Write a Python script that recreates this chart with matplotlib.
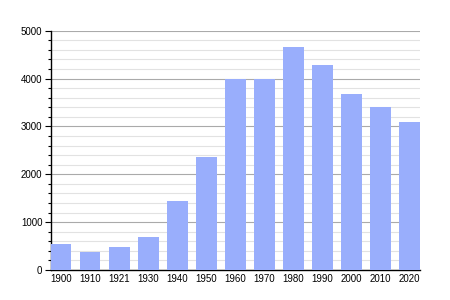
import numpy as np
import matplotlib
matplotlib.use("Agg")
import matplotlib.pyplot as plt
from matplotlib.ticker import MultipleLocator

years = ["1900", "1910", "1921", "1930", "1940", "1950", "1960",
         "1970", "1980", "1990", "2000", "2010", "2020"]
population = [545, 385, 480, 690, 1440, 2360, 4000,
              4000, 4660, 4285, 3680, 3400, 3090]

plt.rcParams["font.family"] = ["Liberation Sans", "DejaVu Sans"]

fig = plt.figure(figsize=(4.5, 3), dpi=100)
ax = fig.add_axes([0.1127, 0.1, 0.8206, 0.7977])

w = 0.713
x = np.arange(len(years))
ax.bar(x, population, width=w, color="#99aefc", zorder=3)

ax.set_xlim(-w / 2, len(years) - 1 + w / 2)
ax.set_ylim(0, 5000)
ax.yaxis.set_major_locator(MultipleLocator(1000))
ax.yaxis.set_minor_locator(MultipleLocator(200))
ax.grid(axis="y", which="major", color="#aaaaaa", lw=0.8, zorder=0)
ax.grid(axis="y", which="minor", color="#e2e2e2", lw=0.8, zorder=0)

ax.set_xticks(x)
ax.set_xticklabels(years)
ax.tick_params(axis="x", length=0, pad=3, labelsize=7)
ax.tick_params(axis="y", which="major", length=4, width=0.8, labelsize=7, pad=2)
ax.tick_params(axis="y", which="minor", length=2, width=0.8)

for s in ["top", "right"]:
    ax.spines[s].set_visible(False)
ax.spines["left"].set_linewidth(1)
ax.spines["bottom"].set_linewidth(1)

fig.savefig("out.png", dpi=100)
